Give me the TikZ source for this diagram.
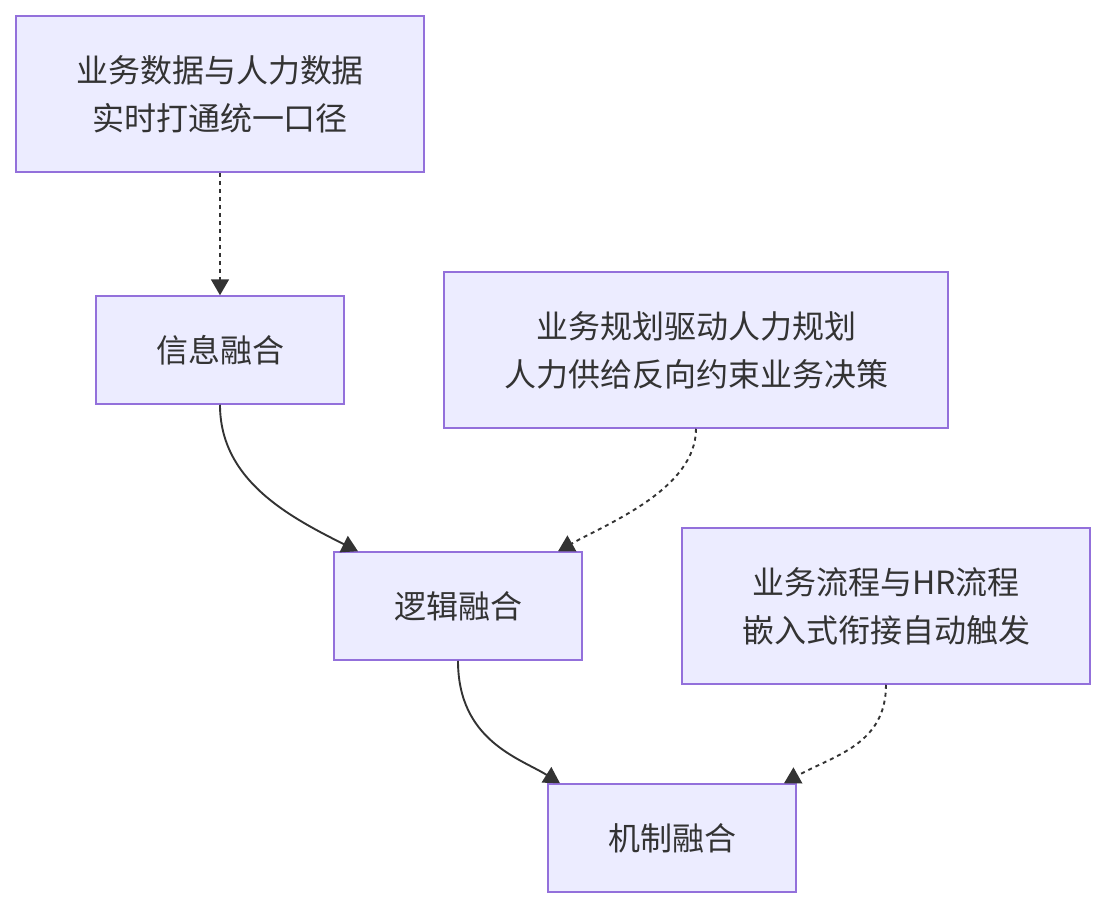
\documentclass[tikz,border=0pt]{standalone}
\usepackage{fontspec}
\newfontfamily\cjk{Noto Sans CJK SC}
\usetikzlibrary{arrows.meta,calc}
\definecolor{boxfill}{HTML}{ECECFF}
\definecolor{boxline}{HTML}{9370DB}
\definecolor{txt}{HTML}{333333}
\tikzset{
  box/.style={draw=boxline, fill=boxfill, line width=1.5pt, rectangle, align=center,
    text=txt, font=\cjk\fontsize{32}{48}\selectfont, inner sep=0pt},
  link/.style={draw=txt, line width=1.9pt, -{Triangle[width=18pt,length=16pt]}},
  dotlink/.style={link, dash pattern=on 4pt off 4pt},
}
\begin{document}
\begin{tikzpicture}[x=1pt,y=-1pt]
\useasboundingbox (0,0) rectangle (1106,908);
\node[box, minimum width=408pt, minimum height=156pt] (a) at (220,94) {业务数据与人力数据\\实时打通统一口径};
\node[box, minimum width=248pt, minimum height=108pt] (b) at (220,350) {信息融合};
\node[box, minimum width=504pt, minimum height=156pt] (c) at (696,350) {业务规划驱动人力规划\\人力供给反向约束业务决策};
\node[box, minimum width=248pt, minimum height=108pt] (d) at (458,606) {逻辑融合};
\node[box, minimum width=408pt, minimum height=156pt] (e) at (886,606) {业务流程与HR流程\\嵌入式衔接自动触发};
\node[box, minimum width=248pt, minimum height=108pt] (f) at (672,838) {机制融合};
\coordinate (d1) at ($(d.north)+(-100,0)$);
\coordinate (d2) at ($(d.north)+(100,0)$);
\coordinate (f1) at ($(f.north)+(-112,0)$);
\coordinate (f2) at ($(f.north)+(112,0)$);
\draw[dotlink] (a.south) -- (b.north);
\draw[link] (b.south) .. controls ($(b.south)+(0,75)$) and ($(d1)+(-70,-35)$) .. (d1);
\draw[dotlink] (c.south) .. controls ($(c.south)+(0,60)$) and ($(d2)+(50,-28)$) .. (d2);
\draw[link] (d.south) .. controls ($(d.south)+(0,80)$) and ($(f1)+(-40,-25)$) .. (f1);
\draw[dotlink] (e.south) .. controls ($(e.south)+(0,60)$) and ($(f2)+(50,-28)$) .. (f2);
\end{tikzpicture}
\end{document}
